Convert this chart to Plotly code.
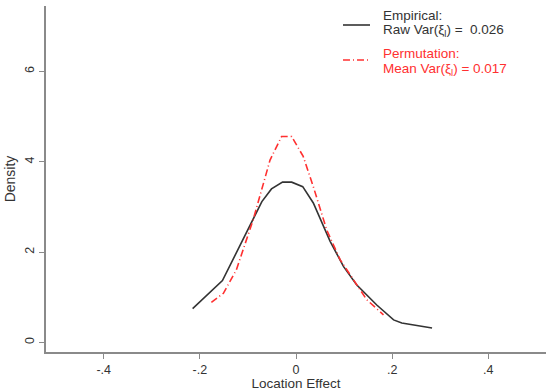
import plotly.graph_objects as go

# Empirical density (black)
emp_x = [-0.215, -0.153, -0.071, -0.051, -0.028, -0.009, 0.014, 0.036, 0.071, 0.099, 0.126, 0.168, 0.203, 0.220, 0.283]
emp_y = [0.75, 1.37, 3.12, 3.40, 3.55, 3.55, 3.45, 3.09, 2.24, 1.68, 1.28, 0.83, 0.50, 0.43, 0.32]

# Permutation density (red)
perm_x = [-0.176, -0.151, -0.124, -0.089, -0.054, -0.030, -0.009, 0.015, 0.036, 0.064, 0.092, 0.119, 0.147, 0.182]
perm_y = [0.89, 1.09, 1.61, 2.72, 4.04, 4.56, 4.56, 4.12, 3.45, 2.49, 1.83, 1.39, 0.95, 0.61]

x_ticks = [-0.4, -0.2, 0, 0.2, 0.4]
x_ticklabels = ["-.4", "-.2", "0", ".2", ".4"]
y_ticks = [0, 2, 4, 6]

legend_lines = [
    ("Empirical:", "#333333"),
    ("Raw Var(ξ<sub>l</sub>) =  0.026", "#333333"),
    ("Permutation:", "#ff3030"),
    ("Mean Var(ξ<sub>l</sub>) = 0.017", "#ff3030"),
]
legend_px = [15, 31, 53, 69]

FONT = "Liberation Sans, Arial, Helvetica, sans-serif"
AX = "#8a8a8a"
RED = "#ff3030"
BLK = "#333333"
RED_DASH = "7px,3px,1px,3px"

fig = go.Figure()
fig.add_trace(go.Scatter(
    x=emp_x, y=emp_y, mode="lines",
    line=dict(color=BLK, width=1.6), showlegend=False,
))
fig.add_trace(go.Scatter(
    x=perm_x, y=perm_y, mode="lines",
    line=dict(color=RED, width=1.6, dash=RED_DASH), showlegend=False,
))

# legend text
for (txt, col), py in zip(legend_lines, legend_px):
    fig.add_annotation(
        x=0.67, y=(352 - py) / 346, xref="paper", yref="paper", xanchor="left", yanchor="middle",
        text=txt, showarrow=False, font=dict(size=13.5, color=col, family=FONT),
    )
# legend keys
fig.add_shape(type="line", xref="paper", yref="paper", x0=0.594, x1=0.648,
              y0=(352 - 25) / 346, y1=(352 - 25) / 346, line=dict(color=BLK, width=1.6))
fig.add_shape(type="line", xref="paper", yref="paper", x0=0.594, x1=0.646,
              y0=(352 - 60) / 346, y1=(352 - 60) / 346, line=dict(color=RED, width=1.6, dash=RED_DASH))

fig.update_layout(
    width=546, height=391,
    margin=dict(l=46, r=0, t=6, b=39),
    paper_bgcolor="white", plot_bgcolor="white",
    font=dict(family=FONT, size=12, color="#333333"),
    showlegend=False,
    xaxis=dict(
        range=[-0.52, 0.52], tickvals=x_ticks, ticktext=x_ticklabels,
        showgrid=False, zeroline=False, showline=True, linecolor=AX, linewidth=1.5,
        ticks="outside", ticklen=5, tickcolor=AX, tickwidth=1.2,
        tickfont=dict(size=12.5),
        title=dict(text="Location Effect", font=dict(size=13.5), standoff=5),
    ),
    yaxis=dict(
        range=[-0.21, 7.45], tickvals=y_ticks,
        showgrid=False, zeroline=False, showline=True, linecolor=AX, linewidth=1.5,
        ticks="outside", ticklen=5, tickcolor=AX, tickwidth=1.2, tickangle=-90,
        tickfont=dict(size=12.5),
        title=dict(text="Density", font=dict(size=14), standoff=4),
    ),
)

fig.write_html("out.html")
